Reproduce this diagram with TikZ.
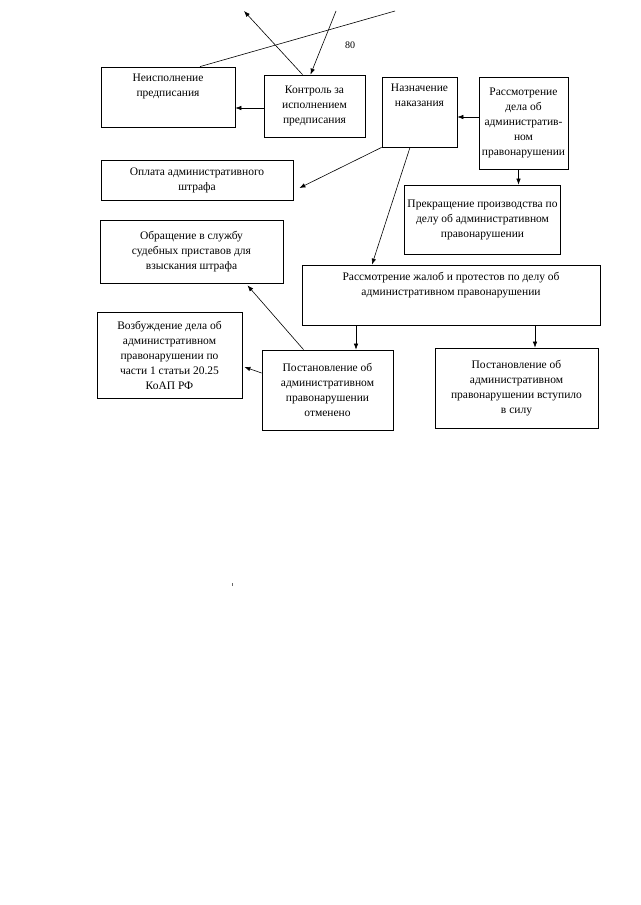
\documentclass[tikz,border=0pt]{standalone}
\usepackage{fontspec}
\setmainfont{Liberation Serif}
\usetikzlibrary{arrows.meta, positioning}

\begin{document}
\begin{tikzpicture}[x=1pt, y=-1pt,
    box/.style={draw=black, line width=0.8pt, align=center, inner sep=3pt,
        font=\fontsize{11.5}{15}\selectfont},
    plain/.style={align=center, inner sep=0pt, font=\fontsize{11.5}{15}\selectfont},
    arr/.style={-{Latex[length=6pt,width=4.5pt]}, line width=0.6pt},
    link/.style={line width=0.6pt}]
    \useasboundingbox (0,0) rectangle (640,905);

    % upper row
    \node[box, minimum width=134, minimum height=60] (nonexec) at (168,97) {};
    \node[plain, below=7pt of nonexec.north] (nonexectxt) {Неисполнение\\предписания};
    \node[box, minimum width=101, minimum height=62] (control) at (314.5,106)
        {Контроль за\\исполнением\\предписания};
    \node[box, minimum width=75, minimum height=70] (penalty) at (419.5,112) {};
    \node[plain, below=7pt of penalty.north] (penaltytxt) {Назначение\\наказания};
    \node[box, minimum width=77, minimum height=92] (review) at (523.5,123)
        {Рассмотрение\\дела об\\административ-\\ном\\правонарушении};
    \node[box, minimum width=155, minimum height=69] (stop) at (482.5,219.5)
        {Прекращение производства по\\делу об административном\\правонарушении};

    % left column
    \node[box, minimum width=192, minimum height=40] (pay) at (197,180)
        {Оплата административного\\штрафа};
    \node[box, minimum width=183, minimum height=63] (bailiff) at (191.5,251.5)
        {Обращение в службу\\судебных приставов для\\взыскания штрафа};
    \node[box, minimum width=145, minimum height=86] (newcase) at (169.5,355)
        {Возбуждение дела об\\административном\\правонарушении по\\части 1 статьи 20.25\\КоАП РФ};

    % lower row
    \node[box, minimum width=298, minimum height=60] (appeal) at (451,295) {};
    \node[plain, below=7pt of appeal.north] (appealtxt)
        {Рассмотрение жалоб и протестов по делу об\\административном правонарушении};
    \node[box, minimum width=131, minimum height=80] (cancel) at (327.5,390)
        {Постановление об\\административном\\правонарушении\\отменено};
    \node[box, minimum width=163, minimum height=80] (force) at (516.5,388)
        {Постановление об\\административном\\правонарушении вступило\\в силу};

    \node[font=\fontsize{10}{12}\selectfont, inner sep=0pt] (pagenum) at (350,45) {80};

    % loose ends at the top
    \coordinate (topA) at (395,11);
    \coordinate (topB) at (244,11);
    \coordinate (topC) at (336,11);
    \coordinate (tick) at (232,583);

    \draw[link] ([xshift=32pt]nonexec.north) -- (topA);
    \draw[arr] ([xshift=-12pt]control.north) -- (topB);
    \draw[arr] (topC) -- ([xshift=-4pt]control.north);

    % connectors
    \draw[arr] ([yshift=-2pt]control.west) -- ([yshift=-2pt]control.west -| nonexec.east);
    \draw[arr] ([yshift=6pt]review.west) -- ([yshift=6pt]review.west -| penalty.east);
    \draw[arr] ([xshift=-5pt]review.south) -- ([xshift=-5pt]review.south |- stop.north);
    \draw[arr] (penalty.south west) -- ([xshift=6pt,yshift=-8pt]pay.east);
    \draw[arr] ([xshift=-9.5pt]penalty.south) -- ([xshift=-79pt]appeal.north);
    \draw[arr] ([xshift=-95pt]appeal.south) -- ([xshift=-95pt]appeal.south |- cancel.north);
    \draw[arr] ([xshift=84pt]appeal.south) -- ([xshift=84pt]appeal.south |- force.north);
    \draw[arr] ([xshift=-24pt]cancel.north) -- ([xshift=56pt,yshift=-2pt]bailiff.south);
    \draw[arr] ([yshift=17pt]cancel.west) -- ([xshift=2pt,yshift=-12pt]newcase.east);

    \draw[line width=0.6pt, black!60] (tick) -- ++(0,3);
\end{tikzpicture}
\end{document}
